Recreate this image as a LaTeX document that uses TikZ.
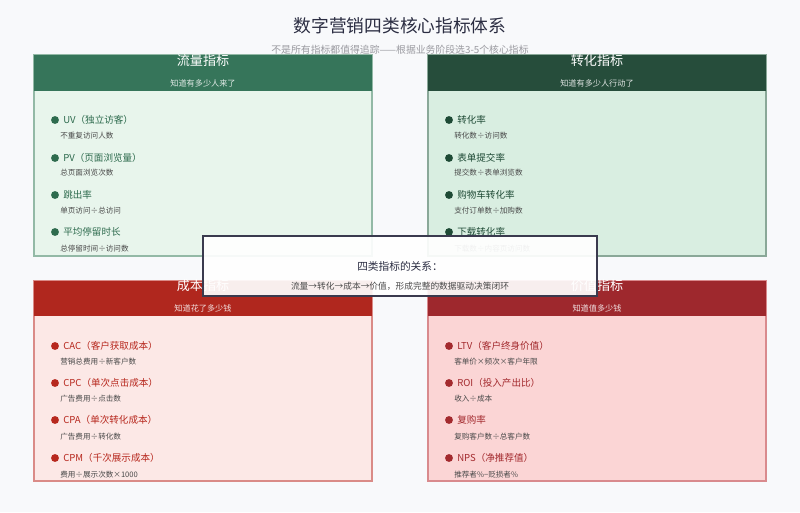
\documentclass[tikz,border=0pt]{standalone}
\usepackage{fontspec}
\setmainfont{Noto Sans CJK SC}
\usepackage{xcolor}
\usepackage{tikz}
\definecolor{pagebg}{HTML}{F8F9FB}
\definecolor{titlecol}{HTML}{2B2D42}
\definecolor{subcol}{HTML}{9A9AA0}
\definecolor{formula}{HTML}{4A4A4A}
\definecolor{gahead}{HTML}{36755A}
\definecolor{gabody}{HTML}{E8F5EC}
\definecolor{galine}{HTML}{93B9A6}
\definecolor{gatext}{HTML}{2E6B4E}
\definecolor{gbhead}{HTML}{264D3B}
\definecolor{gbbody}{HTML}{D9EEE1}
\definecolor{gbline}{HTML}{8AA898}
\definecolor{gbtext}{HTML}{1E4A35}
\definecolor{rahead}{HTML}{B0271E}
\definecolor{rabody}{HTML}{FCE8E6}
\definecolor{raline}{HTML}{DA8B87}
\definecolor{ratext}{HTML}{B7281E}
\definecolor{rbhead}{HTML}{9E282D}
\definecolor{rbbody}{HTML}{FBD5D5}
\definecolor{rbline}{HTML}{D98A8D}
\definecolor{rbtext}{HTML}{A32A2E}
\definecolor{midline}{HTML}{3A3A4E}

\begin{document}
\begin{tikzpicture}[x=0.025cm,y=-0.025cm,
		hd/.style={font=\fontsize{9.3}{11}\selectfont,text=white,inner sep=0pt},
		hdsub/.style={font=\fontsize{5.8}{7}\selectfont,text=white,text opacity=.85,inner sep=0pt},
		item/.style={anchor=west,font=\fontsize{6.8}{8}\selectfont,inner sep=0pt},
		frm/.style={anchor=west,font=\fontsize{5.4}{6}\selectfont,text=formula,inner sep=0pt}]
		\def\cz{2.8pt}
		\fill[pagebg] (0,0) rectangle (800,512);
		\useasboundingbox (0,0) rectangle (800,512);
		\node[text=titlecol,font=\fontsize{12.6}{15}\selectfont] (title) at (400,26) {数字营销四类核心指标体系};
		\node[text=subcol,font=\fontsize{7}{8}\selectfont] (subtitle) at (400,50) {不是所有指标都值得追踪——根据业务阶段选3-5个核心指标};

		\filldraw[fill=gabody,draw=galine,line width=1.2pt] (34,55) rectangle (372,256);
		\fill[gahead] (34,55) rectangle (372,91);
		\node[hd] (traffic) at (203,61) {流量指标};
		\node[hdsub] (trafficsub) at (203,83) {知道有多少人来了};
		\fill[gatext] (55,120) circle (\cz) (55,158) circle (\cz) (55,195) circle (\cz) (55,232) circle (\cz);
		\node[item,text=gatext] (uv) at (63,120) {UV（独立访客）};
		\node[frm] (uvf) at (60,136) {不重复访问人数};
		\node[item,text=gatext] (pv) at (63,158) {PV（页面浏览量）};
		\node[frm] (pvf) at (60,173) {总页面浏览次数};
		\node[item,text=gatext] (bounce) at (63,195) {跳出率};
		\node[frm] (bouncef) at (60,211) {单页访问÷总访问};
		\node[item,text=gatext] (stay) at (63,232) {平均停留时长};
		\node[frm] (stayf) at (60,249) {总停留时间÷访问数};

		\filldraw[fill=gbbody,draw=gbline,line width=1.2pt] (428,55) rectangle (766,256);
		\fill[gbhead] (428,55) rectangle (766,91);
		\node[hd] (conv) at (597,61) {转化指标};
		\node[hdsub] (convsub) at (597,83) {知道有多少人行动了};
		\fill[gbtext] (449,120) circle (\cz) (449,158) circle (\cz) (449,195) circle (\cz) (449,232) circle (\cz);
		\node[item,text=gbtext] (cvr) at (457,120) {转化率};
		\node[frm] (cvrf) at (454,136) {转化数÷访问数};
		\node[item,text=gbtext] (form) at (457,158) {表单提交率};
		\node[frm] (formf) at (454,173) {提交数÷表单浏览数};
		\node[item,text=gbtext] (cart) at (457,195) {购物车转化率};
		\node[frm] (cartf) at (454,211) {支付订单数÷加购数};
		\node[item,text=gbtext] (dl) at (457,232) {下载转化率};
		\node[frm] (dlf) at (454,249) {下载数÷内容页访问数};

		\filldraw[fill=rabody,draw=raline,line width=1.2pt] (34,281) rectangle (372,481);
		\fill[rahead] (34,281) rectangle (372,316);
		\node[hd] (cost) at (203,286) {成本指标};
		\node[hdsub] (costsub) at (203,308) {知道花了多少钱};
		\fill[ratext] (55,346) circle (\cz) (55,383) circle (\cz) (55,420) circle (\cz) (55,458) circle (\cz);
		\node[item,text=ratext] (cac) at (63,346) {CAC（客户获取成本）};
		\node[frm] (cacf) at (60,362) {营销总费用÷新客户数};
		\node[item,text=ratext] (cpc) at (63,383) {CPC（单次点击成本）};
		\node[frm] (cpcf) at (60,399) {广告费用÷点击数};
		\node[item,text=ratext] (cpa) at (63,420) {CPA（单次转化成本）};
		\node[frm] (cpaf) at (60,437) {广告费用÷转化数};
		\node[item,text=ratext] (cpm) at (63,458) {CPM（千次展示成本）};
		\node[frm] (cpmf) at (60,475) {费用÷展示次数×1000};

		\filldraw[fill=rbbody,draw=rbline,line width=1.2pt] (428,281) rectangle (766,481);
		\fill[rbhead] (428,281) rectangle (766,316);
		\node[hd] (value) at (597,286) {价值指标};
		\node[hdsub] (valuesub) at (597,308) {知道值多少钱};
		\fill[rbtext] (449,346) circle (\cz) (449,383) circle (\cz) (449,420) circle (\cz) (449,458) circle (\cz);
		\node[item,text=rbtext] (ltv) at (457,346) {LTV（客户终身价值）};
		\node[frm] (ltvf) at (454,362) {客单价×频次×客户年限};
		\node[item,text=rbtext] (roi) at (457,383) {ROI（投入产出比）};
		\node[frm] (roif) at (454,399) {收入÷成本};
		\node[item,text=rbtext] (rebuy) at (457,420) {复购率};
		\node[frm] (rebuyf) at (454,437) {复购客户数÷总客户数};
		\node[item,text=rbtext] (nps) at (457,458) {NPS（净推荐值）};
		\node[frm] (npsf) at (454,475) {推荐者\%−贬损者\%};

		\filldraw[fill=white,fill opacity=.92,draw=midline,line width=1.3pt] (203,236) rectangle (597,296);
		\node[text=titlecol,font=\fontsize{7.6}{9}\selectfont] (relation) at (400,266) {四类指标的关系：};
		\node[text=formula,font=\fontsize{6.2}{7}\selectfont] (loop) at (400,286) {流量→转化→成本→价值，形成完整的数据驱动决策闭环};
	\end{tikzpicture}
\end{document}
